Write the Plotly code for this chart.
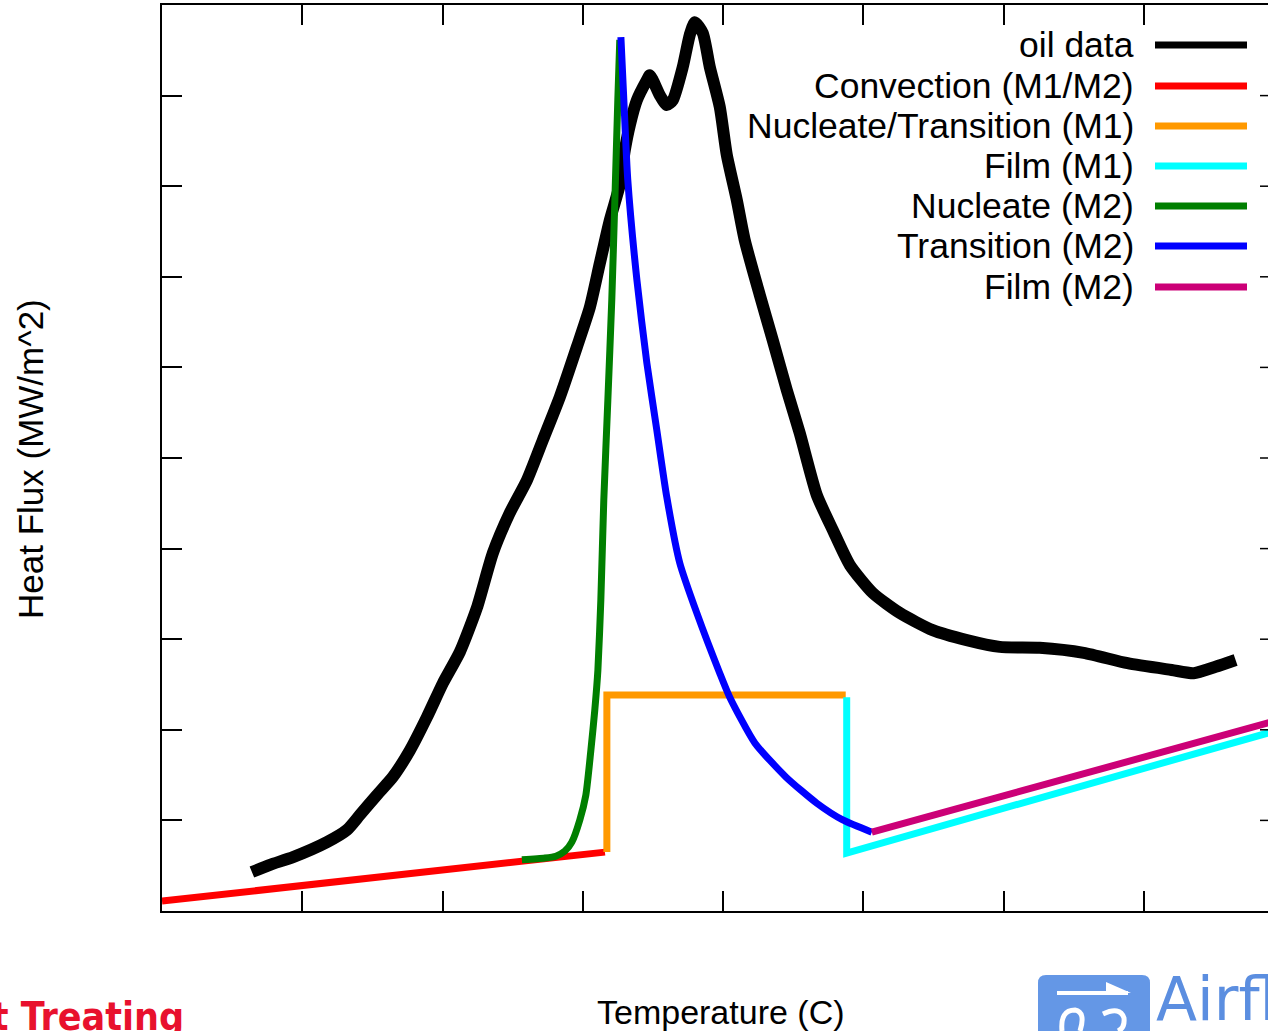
import plotly.graph_objects as go

# ---------------- data (temperature in C, heat flux in MW/m^2) ----------------
oil_T = [64.1, 77.0, 93.4, 117.6, 131.9, 141.1, 153.2, 164.6, 176.8, 188.9, 200.3, 212.4,
         224.5, 235.9, 248.0, 260.2, 271.6, 283.7, 295.8, 305.1, 312.2, 319.3, 326.4, 330.0,
         333.6, 338.6, 345.7, 347.8, 354.9, 359.9, 364.2, 371.3, 376.3, 379.9, 385.6, 390.6,
         397.7, 402.7, 409.8, 415.5, 426.2, 435.5, 445.5, 454.7, 466.9, 478.3, 490.4, 506.8,
         526.0, 549.5, 573.8, 597.3, 625.8, 657.2, 688.5, 719.9, 735.6, 751.2, 765.5]
oil_q = [0.086, 0.102, 0.119, 0.152, 0.179, 0.212, 0.256, 0.296, 0.355, 0.428, 0.503, 0.572,
         0.669, 0.790, 0.879, 0.951, 1.040, 1.135, 1.245, 1.333, 1.430, 1.525, 1.603, 1.680,
         1.735, 1.790, 1.834, 1.845, 1.801, 1.779, 1.790, 1.863, 1.934, 1.962, 1.938, 1.863,
         1.775, 1.669, 1.570, 1.481, 1.360, 1.260, 1.150, 1.055, 0.918, 0.841, 0.764, 0.702,
         0.658, 0.620, 0.598, 0.583, 0.581, 0.570, 0.547, 0.532, 0.525, 0.539, 0.554]

conv_T = [0.0, 315.8]
conv_q = [0.022, 0.130]

nt_m1_T = [317.2, 317.2, 487.5]
nt_m1_q = [0.130, 0.477, 0.477]

film_m1_T = [488.2, 488.2, 800.0]
film_m1_q = [0.472, 0.128, 0.403]

nuc_m2_T = [256.6, 273.0, 280.8, 287.2, 292.2, 297.9, 302.2, 305.8, 308.6, 310.8, 312.9,
            315.0, 317.9, 320.7, 322.9, 325.0, 326.4]
nuc_m2_q = [0.113, 0.117, 0.121, 0.132, 0.152, 0.201, 0.256, 0.355, 0.444, 0.532, 0.687,
            0.907, 1.128, 1.349, 1.570, 1.790, 1.923]

trans_m2_T = [327.2, 329.3, 332.1, 338.6, 345.7, 352.8, 359.9, 369.2, 381.3, 397.7, 404.8,
              422.7, 444.8, 466.9, 485.4, 506.1]
trans_m2_q = [1.929, 1.790, 1.614, 1.393, 1.210, 1.062, 0.914, 0.768, 0.658, 0.525, 0.472,
              0.371, 0.296, 0.238, 0.201, 0.174]

film_m2_T = [506.1, 800.0]
film_m2_q = [0.174, 0.425]

x_ticks = [0, 100, 200, 300, 400, 500, 600, 700]
y_ticks = [0.0, 0.2, 0.4, 0.6, 0.8, 1.0, 1.2, 1.4, 1.6, 1.8]

series_names = ["oil data", "Convection (M1/M2)", "Nucleate/Transition (M1)", "Film (M1)",
                "Nucleate (M2)", "Transition (M2)", "Film (M2)"]
series_colors = ["#000000", "#ff0000", "#ff9900", "#00ffff", "#007f00", "#0000ff", "#cc0077"]

# ---------------- figure ----------------
W, H = 1268, 1031
L, R, T, B = 162, 0, 5, 120
PW, PH = W - L - R, H - T - B


def px(x):
    return (x - L) / PW


def py(y):
    return (H - B - y) / PH


FONT = "Liberation Sans, Arial, sans-serif"

xs = [oil_T, conv_T, nt_m1_T, film_m1_T, nuc_m2_T, trans_m2_T, film_m2_T]
ys = [oil_q, conv_q, nt_m1_q, film_m1_q, nuc_m2_q, trans_m2_q, film_m2_q]
widths = [12, 7, 7, 7, 7, 7, 7]
shapes_ln = ["spline", "linear", "linear", "linear", "spline", "spline", "linear"]

fig = go.Figure()
for name, color, x, y, w, sh in zip(series_names, series_colors, xs, ys, widths, shapes_ln):
    line = dict(color=color, width=w, shape=sh)
    if sh == "spline":
        line["smoothing"] = 0.6
    fig.add_trace(go.Scatter(x=x, y=y, mode="lines", name=name, line=line, showlegend=False))

shapes = []
annotations = []

# manual legend (text right-aligned, sample line on the right)
row_y = [45, 86, 126, 166, 206, 246, 287]
for name, color, ry in zip(series_names, series_colors, row_y):
    annotations.append(dict(x=px(1136), y=py(ry), xref="paper", yref="paper",
                            text=name, showarrow=False, xanchor="right", yanchor="middle",
                            font=dict(family=FONT, size=35.5, color="#000000")))
    shapes.append(dict(type="line", xref="paper", yref="paper",
                       x0=px(1155), x1=px(1247), y0=py(ry), y1=py(ry),
                       line=dict(color=color, width=7)))

# right-side ticks (the right frame lies just beyond the visible area)
for yv in y_ticks[1:]:
    shapes.append(dict(type="line", xref="paper", yref="y", x0=px(1260), x1=px(1268),
                       y0=yv, y1=yv, line=dict(color="#000000", width=1.5)))

# axis titles
annotations.append(dict(x=px(30), y=py(459), xref="paper", yref="paper",
                        text="Heat Flux (MW/m^2)", textangle=-90, showarrow=False,
                        xanchor="center", yanchor="middle",
                        font=dict(family=FONT, size=35, color="#000000")))
annotations.append(dict(x=px(721), y=py(1012), xref="paper", yref="paper",
                        text="Temperature (C)", showarrow=False,
                        xanchor="center", yanchor="middle",
                        font=dict(family=FONT, size=34, color="#000000")))

# watermark logos
annotations.append(dict(x=px(186), y=py(1016), xref="paper", yref="paper",
                        text="<b>Heat Treating</b>", showarrow=False,
                        xanchor="right", yanchor="middle",
                        font=dict(family="Liberation Sans Narrow, DejaVu Sans Condensed, Liberation Sans",
                                  size=39, color="#e8112d")))

x0b, x1b, y0b, y1b, rr = 1038, 1150, 975, 1045, 8
path = (f"M {px(x0b + rr)},{py(y0b)} L {px(x1b - rr)},{py(y0b)} "
        f"Q {px(x1b)},{py(y0b)} {px(x1b)},{py(y0b + rr)} L {px(x1b)},{py(y1b)} "
        f"L {px(x0b)},{py(y1b)} L {px(x0b)},{py(y0b + rr)} "
        f"Q {px(x0b)},{py(y0b)} {px(x0b + rr)},{py(y0b)} Z")
shapes.append(dict(type="path", xref="paper", yref="paper", path=path,
                   fillcolor="#6497e6", line=dict(width=0)))
shapes.append(dict(type="line", xref="paper", yref="paper", x0=px(1057), x1=px(1128),
                   y0=py(993), y1=py(993), line=dict(color="white", width=4)))
shapes.append(dict(type="path", xref="paper", yref="paper",
                   path=f"M {px(1106)},{py(982)} L {px(1131)},{py(993)} L {px(1106)},{py(993)} Z",
                   fillcolor="white", line=dict(width=0)))
shapes.append(dict(type="path", xref="paper", yref="paper",
                   path=(f"M {px(1062)},{py(1031)} Q {px(1060)},{py(1010)} {px(1075)},{py(1010)} "
                         f"Q {px(1086)},{py(1012)} {px(1080)},{py(1031)}"),
                   line=dict(color="white", width=5)))
shapes.append(dict(type="path", xref="paper", yref="paper",
                   path=(f"M {px(1103)},{py(1014)} Q {px(1120)},{py(1006)} {px(1124)},{py(1018)} "
                         f"Q {px(1125)},{py(1028)} {px(1118)},{py(1031)}"),
                   line=dict(color="white", width=5)))
annotations.append(dict(x=px(1154), y=py(999), xref="paper", yref="paper",
                        text="Airflow", showarrow=False, xanchor="left", yanchor="middle",
                        font=dict(family="DejaVu Sans, Liberation Sans", size=60, color="#5b8ee0")))

fig.update_layout(
    width=W, height=H,
    margin=dict(l=L, r=R, t=T, b=B, pad=0),
    paper_bgcolor="white", plot_bgcolor="white",
    showlegend=False,
    shapes=shapes, annotations=annotations,
    xaxis=dict(range=[0, PW / 1.4025], showline=True, linecolor="#000000", linewidth=2,
               mirror="allticks", ticks="inside", ticklen=20, tickwidth=1.5,
               tickcolor="#000000", tickvals=x_ticks, showticklabels=False,
               showgrid=False, zeroline=False),
    yaxis=dict(range=[0, 2.0], showline=True, linecolor="#000000", linewidth=2,
               mirror=False, ticks="inside", ticklen=20, tickwidth=1.5,
               tickcolor="#000000", tickvals=y_ticks, showticklabels=False,
               showgrid=False, zeroline=False),
)

fig.write_html("out.html", config={"displayModeBar": False},
               post_script="document.body.style.margin='0px';document.body.style.overflow='hidden';")
